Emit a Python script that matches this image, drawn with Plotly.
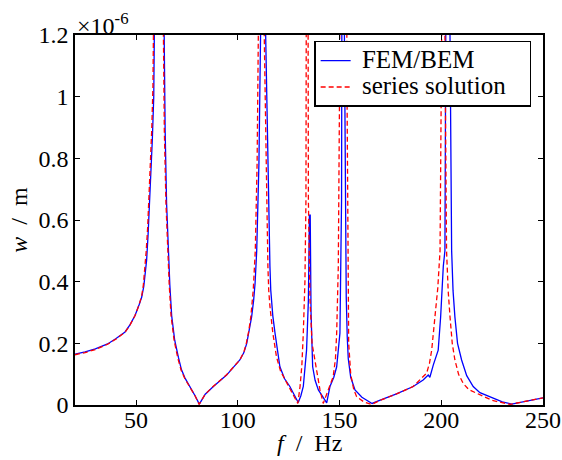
import plotly.graph_objects as go

# frequencies (Hz) and deflection (in units of 1e-6 m)
f_fem = [20, 25, 30, 36, 40, 44.6, 47, 49.5, 51.5, 52.8, 53.8, 54.6, 55.2, 55.9, 56.5, 57.3, 58, 58.7,
         59.3, 60.5, 61.5, 62.6, 63.8, 64.3, 65, 65.4, 65.9, 66.6, 67.5, 69, 70.8, 72.3, 74, 76.5, 79,
         81.1, 84, 88, 94.5, 101, 103, 104.4, 105.8, 106.8, 107.8, 108.5, 109.3, 110.4, 111.2,
         112.4, 113.7, 114.7, 115.3, 115.8, 116.2, 117.2, 118.3, 119.5, 120.7, 123, 125.6, 129.7,
         131, 132.2, 133.2, 133.8, 134.7, 135.2, 135.6, 136.0, 136.8, 138, 139.6, 143.7, 145.3,
         147.2, 148.6, 150.2, 151.0, 151.6, 152.4, 152.8, 153.3, 153.8, 154.3, 155.5, 157.6, 161,
         166, 170, 178, 186.2, 191.1, 193.6, 194.4, 196.1, 197.5, 198.5, 199.7, 201, 201.8, 202.3,
         203.3, 204.3, 205.1, 205.8, 206.7, 208, 210, 212.5, 215.7, 219, 223.9, 230, 234.6, 242,
         249.3, 250]
w_fem = [0.165, 0.172, 0.182, 0.198, 0.215, 0.237, 0.26, 0.29, 0.325, 0.35, 0.385, 0.43, 0.47, 0.55,
         0.635, 0.74, 0.86, 1.0, 1.2, 1.8, 3.0, 2.0, 1.2, 0.89, 0.655, 0.57, 0.50, 0.39, 0.29, 0.21,
         0.155, 0.115, 0.088, 0.06, 0.03, 0.003, 0.035, 0.06, 0.097, 0.146, 0.17, 0.2, 0.245, 0.286,
         0.34, 0.395, 0.50, 0.785, 1.2, 3.0, 1.2, 0.785, 0.58, 0.45, 0.373, 0.29, 0.233, 0.17,
         0.124, 0.085, 0.06, 0.008, 0.03, 0.06, 0.12, 0.178, 0.34, 0.616, 0.616, 0.30, 0.124, 0.08,
         0.049, 0.007, 0.06, 0.09, 0.124, 0.233, 0.665, 3.0, 1.2, 0.665, 0.35, 0.22, 0.15, 0.09,
         0.049, 0.025, 0.005, 0.016, 0.036, 0.06, 0.081, 0.097, 0.09, 0.13, 0.155, 0.178, 0.286,
         0.45, 0.50, 1.2, 3.0, 1.2, 0.50, 0.37, 0.286, 0.2, 0.146, 0.095, 0.06, 0.04, 0.027, 0.01,
         0.003, 0.012, 0.022, 0.023]

f_series = [20, 25, 30, 36, 40, 44.6, 47, 49.5, 51.5, 52.8, 53.6, 54.4, 55.0, 55.7, 56.3, 57.0, 57.7,
            58.3, 58.9, 60.2, 61.2, 62.3, 63.4, 63.9, 64.7, 65.1, 65.6, 66.3, 67.2, 68.7, 70.6, 72.2,
            74, 76.5, 79, 81, 84, 88, 94.5, 101, 103, 104.2, 105.4, 106.4, 107.6, 108.6, 109.5, 110.1,
            111.5, 113.0, 113.9, 114.8, 115.2, 115.8, 117.2, 119, 121, 125, 129.5, 130.6, 131.5, 132.2,
            133.0, 133.5, 134.1, 134.7, 135.5, 136.5, 138, 140.4, 142, 144.5, 146.9, 148.0, 148.6,
            149.4, 150.0, 150.5, 151.8, 153.2, 153.7, 154.0, 154.5, 155.5, 157, 158.4, 162, 165.8,
            170, 178, 186.2, 190, 192.8, 194.2, 195.3, 196.9, 198.3, 199.4, 200.2, 201.0, 201.8,
            202.6, 203.4, 204.3, 205.4, 206.7, 208.5, 210.8, 213.5, 217.4, 225, 233.8, 242, 249.3,
            250]
w_series = [0.163, 0.170, 0.180, 0.197, 0.213, 0.236, 0.259, 0.29, 0.325, 0.355, 0.39, 0.44, 0.50,
            0.575, 0.655, 0.76, 0.89, 1.03, 1.2, 1.8, 3.0, 2.0, 1.2, 0.89, 0.655, 0.57, 0.50, 0.39,
            0.29, 0.21, 0.15, 0.112, 0.085, 0.057, 0.03, 0.002, 0.035, 0.061, 0.098, 0.146, 0.172, 0.2,
            0.24, 0.286, 0.373, 0.50, 0.785, 1.2, 3.0, 1.2, 0.785, 0.45, 0.373, 0.32, 0.235, 0.157,
            0.11, 0.06, 0.005, 0.06, 0.13, 0.233, 0.4, 0.665, 3.0, 0.665, 0.34, 0.2, 0.146, 0.049,
            0.005, 0.05, 0.092, 0.15, 0.233, 0.45, 1.0, 2.0, 3.0, 2.0, 1.0, 0.5, 0.2, 0.1, 0.05, 0.027,
            0.01, 0.002, 0.015, 0.036, 0.06, 0.085, 0.103, 0.135, 0.178, 0.286, 0.38, 0.5, 1.2, 3.0,
            1.2, 0.5, 0.37, 0.286, 0.2, 0.146, 0.1, 0.07, 0.05, 0.038, 0.015, 0.002, 0.012, 0.022,
            0.023]

x_ticks = [50, 100, 150, 200, 250]
y_ticks = [0, 0.2, 0.4, 0.6, 0.8, 1.0, 1.2]
y_ticktext = ["0", "0.2", "0.4", "0.6", "0.8", "1", "1.2"]
series_names = ["FEM/BEM", "series solution"]

FONT = "Liberation Serif"


def legend_label(name):
    return '<span style="font-size:25px">&nbsp;%s&nbsp;&nbsp;&nbsp;</span>' % name


fig = go.Figure()
fig.add_trace(go.Scatter(x=f_fem, y=w_fem, mode="lines", name=legend_label(series_names[0]),
                         line=dict(color="#0000ff", width=1.3)))
fig.add_trace(go.Scatter(x=f_series, y=w_series, mode="lines", name=legend_label(series_names[1]),
                         line=dict(color="#ff0000", width=1.3, dash="5px,3px")))

axis_common = dict(showline=True, linecolor="black", linewidth=1.5, mirror="ticks",
                   ticks="inside", ticklen=5, tickwidth=1, tickcolor="black",
                   showgrid=False, zeroline=False, automargin=False,
                   tickfont=dict(family=FONT, size=24, color="black"))

fig.update_xaxes(range=[20, 250], tickvals=x_ticks, ticklabelstandoff=-8, **axis_common)
fig.update_yaxes(range=[0, 1.2], tickvals=y_ticks, ticktext=y_ticktext,
                 title=dict(text="<i>w</i>  /  m", font=dict(family=FONT, size=24, color="black"),
                            standoff=4),
                 **axis_common)

# x-axis title
fig.add_annotation(text="<i>f</i>  /  Hz", xref="paper", yref="paper", x=0.5, y=-0.103,
                   xanchor="center", yanchor="middle", showarrow=False,
                   font=dict(family=FONT, size=24, color="black"))
# exponent label
fig.add_annotation(text="×10<sup>-6</sup>", xref="paper", yref="paper", x=0.0, y=1.0,
                   xanchor="left", yanchor="bottom", showarrow=False, yshift=-6,
                   font=dict(family=FONT, size=24, color="black"))

fig.update_layout(
    width=562, height=460,
    margin=dict(l=75, r=19, t=35, b=55, autoexpand=False),
    paper_bgcolor="white", plot_bgcolor="white",
    showlegend=True,
    legend=dict(x=0.511, y=0.984, xanchor="left", yanchor="top",
                bordercolor="black", borderwidth=1.5, bgcolor="white",
                font=dict(family=FONT, size=18, color="black"),
                tracegroupgap=0, itemwidth=30),
)

fig.write_html("out.html")
